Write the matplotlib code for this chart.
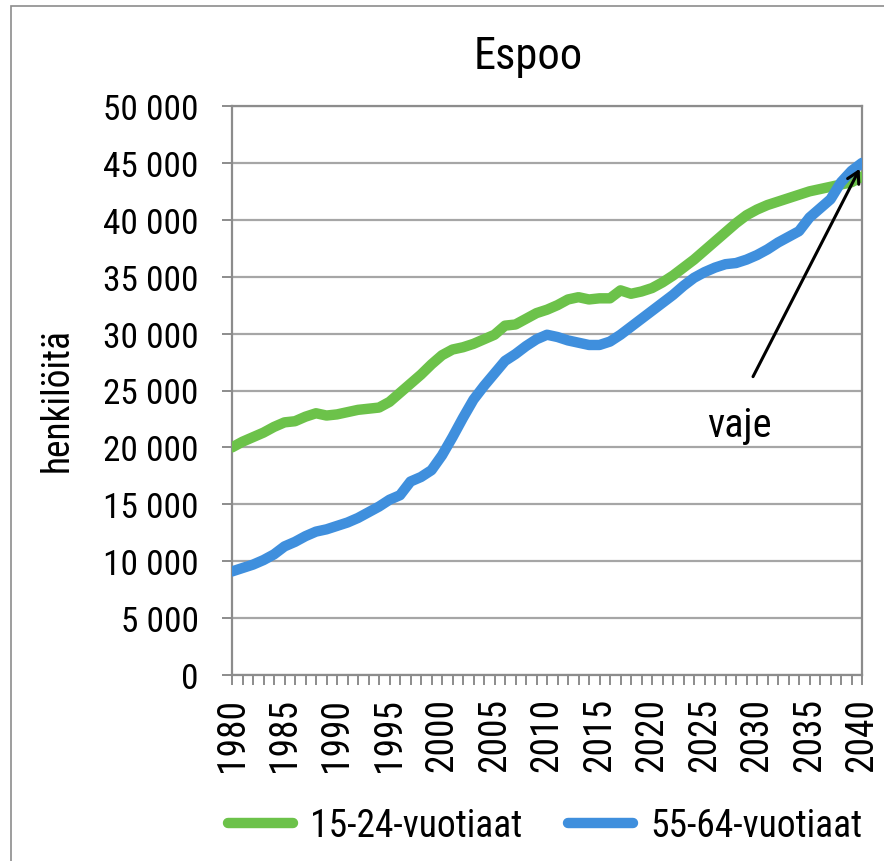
import matplotlib
matplotlib.use("Agg")
import matplotlib.pyplot as plt
from matplotlib.ticker import FuncFormatter, MultipleLocator
from matplotlib.patches import Rectangle

plt.rcParams['font.family'] = ['Roboto Condensed', 'DejaVu Sans']

years = list(range(1980, 2041))
young = [20.0, 20.5, 20.9, 21.3, 21.8, 22.2, 22.3, 22.7, 23.0, 22.8,
         22.9, 23.1, 23.3, 23.4, 23.5, 24.0, 24.8, 25.6, 26.4, 27.3,
         28.1, 28.6, 28.8, 29.1, 29.5, 29.9, 30.7, 30.8, 31.3, 31.8,
         32.1, 32.5, 33.0, 33.2, 33.0, 33.1, 33.1, 33.8, 33.5, 33.7,
         34.0, 34.5, 35.1, 35.8, 36.5, 37.3, 38.1, 38.9, 39.7, 40.4,
         40.9, 41.3, 41.6, 41.9, 42.2, 42.5, 42.7, 42.9, 43.1, 43.3, 43.8]
old = [9.1, 9.4, 9.7, 10.1, 10.6, 11.3, 11.7, 12.2, 12.6, 12.8,
       13.1, 13.4, 13.8, 14.3, 14.8, 15.4, 15.8, 17.0, 17.4, 18.0,
       19.3, 20.9, 22.6, 24.2, 25.4, 26.5, 27.6, 28.2, 28.9, 29.5,
       29.9, 29.7, 29.4, 29.2, 29.0, 29.0, 29.3, 29.9, 30.6, 31.3,
       32.0, 32.7, 33.4, 34.2, 34.9, 35.4, 35.8, 36.1, 36.2, 36.5,
       36.9, 37.4, 38.0, 38.5, 39.0, 40.2, 41.0, 41.8, 43.3, 44.3, 45.0]
young = [v * 1000 for v in young]
old = [v * 1000 for v in old]
labels = ['15-24-vuotiaat', '55-64-vuotiaat']
title = 'Espoo'
ylabel = 'henkilöitä'
annot = 'vaje'

W, H = 884, 862
fig = plt.figure(figsize=(W / 100, H / 100), dpi=100)
fig.patches.append(Rectangle((11 / W, -0.1), 2, 1 - 7 / H + 0.1, transform=fig.transFigure,
                             fill=False, edgecolor='#8c8c8c', linewidth=1.2))
ax = fig.add_axes([232 / W, 1 - 676 / H, (862 - 232) / W, (676 - 107) / H])

green = '#6CC24A'
blue = '#3F8FDD'
l1, = ax.plot(years, young, color=green, lw=7.5, solid_capstyle='round', solid_joinstyle='round', zorder=3)
l2, = ax.plot(years, old, color=blue, lw=7.5, solid_capstyle='round', solid_joinstyle='round', zorder=4)

ax.set_xlim(1980, 2040)
ax.set_ylim(0, 50000)
ax.yaxis.set_major_locator(MultipleLocator(5000))
ax.yaxis.set_major_formatter(FuncFormatter(lambda v, p: f"{int(v):,}".replace(',', ' ')))
ax.set_xticks(years, minor=True)
ax.set_xticks(years[::5])
ax.set_xticklabels([str(y) for y in years[::5]], rotation=90)
ax.grid(axis='y', color='#a6a6a6', lw=1.6, zorder=1)
for s in ax.spines.values():
    s.set_color('#8c8c8c')
    s.set_linewidth(1.6)
ax.tick_params(axis='x', which='both', direction='out', length=7, width=1.4, color='#8c8c8c',
               labelsize=27, pad=9)
ax.tick_params(axis='y', direction='out', length=7, width=1.4, color='#8c8c8c', labelsize=25.5, pad=17)

fig.text(528 / W, 1 - 57 / H, title, fontsize=32, ha='center', va='center')
fig.text(57 / W, 1 - 400 / H, ylabel, fontsize=27, rotation=90, ha='center', va='center')

ax.annotate('', xy=(2039.9, 44700), xytext=(2029.5, 26000),
            arrowprops=dict(arrowstyle='->,head_length=0.8,head_width=0.45', color='black', lw=2.2),
            zorder=6)
ax.text(2028.3, 21000, annot, fontsize=29, ha='center', va='baseline')

fig.legend([l1, l2], labels, loc='center', bbox_to_anchor=(545 / W, 1 - 827 / H), ncol=2,
           frameon=False, fontsize=27, handlelength=1.75, columnspacing=1.2, handletextpad=0.45,
           borderpad=0.1)

fig.savefig('out.png', dpi=100)
